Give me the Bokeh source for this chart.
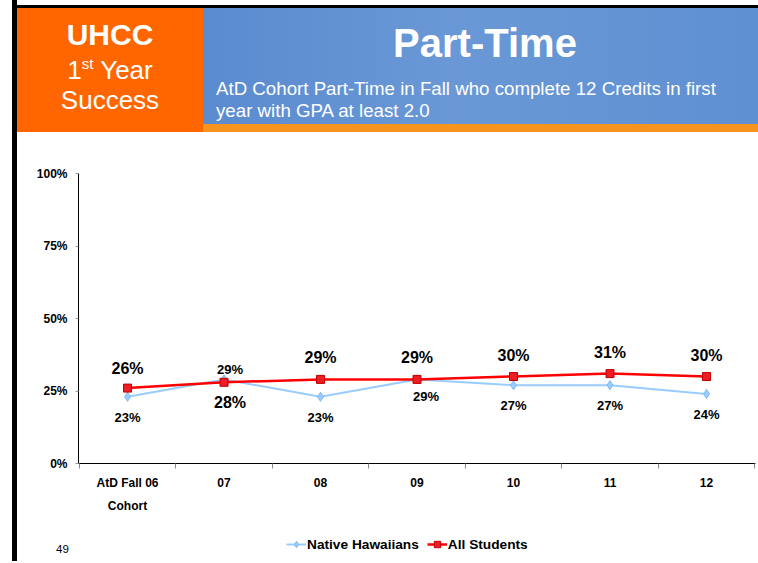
from bokeh.plotting import figure
from bokeh.models import (Range1d, FixedTicker, Legend, LegendItem, Label, Div,
                          ColumnDataSource)
from bokeh.layouts import column
from bokeh.embed import file_html
from bokeh.resources import INLINE
from bokeh.core.properties import value

# ---------------- data ----------------
categories = ["AtD Fall 06\nCohort", "07", "08", "09", "10", "11", "12"]
native_hawaiians = [23, 29, 23, 29, 27, 27, 24]
all_students = [26, 28, 29, 29, 30, 31, 30]
series_names = ["Native Hawaiians", "All Students"]
y_ticks = [0, 25, 50, 75, 100]
y_tick_labels = ["0%", "25%", "50%", "75%", "100%"]
title_text = "Part-Time"
subtitle_lines = ["AtD Cohort Part-Time in Fall who complete 12 Credits in first",
                  "year with GPA at least 2.0"]
page_number = "49"

# label placement (pixel offsets from each point)
nh_dx = [0, 6, 0, 9, 0, 0, 0]
nh_dy = [21, -10, 21, 17, 20, 20, 21]
all_dx = [0, 6, 0, 0, 0, 0, 0]
all_dy = [-20, 20, -22, -22, -21, -21, -21]

FONT = "Liberation Sans"
NH_COLOR = "#99CCFF"
ALL_COLOR = "#FF0000"

W = 758
HEADER_H = 132
FIG_H = 429

# ---------------- header ----------------
header_html = f"""
<div style="position:relative;width:{W}px;height:{HEADER_H}px;overflow:hidden;
            font-family:'Liberation Sans',Arial,sans-serif;color:#fff;">
  <div style="position:absolute;left:12px;top:5px;width:746px;height:3px;background:#000;"></div>
  <div style="position:absolute;left:17px;top:8px;width:186px;height:124px;background:#FF6600;"></div>
  <div style="position:absolute;left:203px;top:8px;width:555px;height:116px;
              background:linear-gradient(90deg,#5a8bcf 0%,#6a98d6 45%,#5f90d2 100%);"></div>
  <div style="position:absolute;left:203px;top:124px;width:555px;height:8px;background:#F7941D;"></div>
  <div style="position:absolute;left:17px;top:21px;width:186px;text-align:center;
              font-weight:bold;font-size:30px;line-height:28px;">UHCC</div>
  <div style="position:absolute;left:17px;top:57px;width:186px;text-align:center;
              font-size:26px;line-height:26px;">1<sup style="font-size:15px;line-height:0;vertical-align:10px;">st</sup> Year</div>
  <div style="position:absolute;left:17px;top:87px;width:186px;text-align:center;
              font-size:26px;line-height:26px;">Success</div>
  <div style="position:absolute;left:203px;top:21px;width:564px;text-align:center;
              font-weight:bold;font-size:40px;line-height:44px;">{title_text}</div>
  <div style="position:absolute;left:216px;top:78px;width:540px;white-space:nowrap;
              font-size:18.7px;line-height:22px;">{subtitle_lines[0]}<br>{subtitle_lines[1]}</div>
</div>
"""
header = Div(text=header_html, width=W, height=HEADER_H, margin=0)

# ---------------- chart ----------------
xs = list(range(len(categories)))
PX_X = 96.5          # pixels per category
X0 = -0.508          # left end of x axis
PX_Y = 2.9           # pixels per percent
AX_LEFT = 78         # pixel position of y axis
AX_TOP = 173 - HEADER_H
AX_BOTTOM = 463 - HEADER_H

x_start = X0 - AX_LEFT / PX_X
x_end = x_start + W / PX_X
y_end = 100 + AX_TOP / PX_Y
y_start = -(FIG_H - AX_BOTTOM) / PX_Y

p = figure(width=W, height=FIG_H, output_backend="svg", toolbar_location=None,
           x_range=Range1d(x_start, x_end), y_range=Range1d(y_start, y_end),
           min_border_left=0, min_border_right=0, min_border_top=0,
           min_border_bottom=0, margin=0)
p.border_fill_color = None
p.background_fill_color = None
p.outline_line_color = None
p.xgrid.visible = False
p.ygrid.visible = False

# y axis
p.yaxis.fixed_location = X0
p.yaxis.bounds = (y_ticks[0], y_ticks[-1])
p.yaxis.ticker = FixedTicker(ticks=y_ticks)
p.yaxis.major_label_overrides = {t: l for t, l in zip(y_ticks, y_tick_labels)}
p.yaxis.axis_line_color = "black"
p.yaxis.major_tick_out = 3
p.yaxis.major_tick_in = 0
p.yaxis.major_tick_line_color = "#999999"
p.yaxis.minor_tick_line_color = None
p.yaxis.major_label_standoff = 8
p.yaxis.major_label_text_font = FONT
p.yaxis.major_label_text_font_style = "bold"
p.yaxis.major_label_text_font_size = "12px"
p.yaxis.major_label_text_color = "black"

# x axis
p.xaxis.fixed_location = 0
p.xaxis.bounds = (X0, len(xs) - 1 - X0)
p.xaxis.ticker = FixedTicker(ticks=xs, minor_ticks=[i - 0.5 for i in range(len(xs) + 1)])
p.xaxis.major_label_overrides = {i: c for i, c in zip(xs, categories)}
p.xaxis.axis_line_color = "black"
p.xaxis.major_tick_out = 0
p.xaxis.major_tick_in = 0
p.xaxis.minor_tick_out = 5
p.xaxis.minor_tick_in = 0
p.xaxis.minor_tick_line_color = "#888888"
p.xaxis.major_label_standoff = 7
p.xaxis.major_label_text_font = FONT
p.xaxis.major_label_text_font_style = "bold"
p.xaxis.major_label_text_font_size = "12px"
p.xaxis.major_label_text_color = "black"
p.xaxis.major_label_text_line_height = 1.68

# series
nh_line = p.line(xs, native_hawaiians, line_color=NH_COLOR, line_width=2)
nh_pts = p.scatter(xs, native_hawaiians, marker="diamond", size=9,
                   fill_color=NH_COLOR, line_color="#80B8F2")
all_line = p.line(xs, all_students, line_color=ALL_COLOR, line_width=2.5)
all_pts = p.scatter(xs, all_students, marker="square", size=8,
                    fill_color="#EE1C25", line_color="#C00000")

# data labels
nh_src = ColumnDataSource(dict(x=xs, y=native_hawaiians,
                               t=[f"{v}%" for v in native_hawaiians],
                               dx=nh_dx, dy=nh_dy))
all_src = ColumnDataSource(dict(x=xs, y=all_students,
                                t=[f"{v}%" for v in all_students],
                                dx=all_dx, dy=all_dy))
p.text(x="x", y="y", text="t", x_offset="dx", y_offset="dy", source=nh_src,
       text_font=value(FONT), text_font_style="bold", text_font_size="13px",
       text_align="center", text_baseline="middle", text_color="black")
p.text(x="x", y="y", text="t", x_offset="dx", y_offset="dy", source=all_src,
       text_font=value(FONT), text_font_style="bold", text_font_size="16px",
       text_align="center", text_baseline="middle", text_color="black")

# legend (bottom-left corner given in screen pixels from the frame's bottom-left)
legend = Legend(items=[LegendItem(label=series_names[0], renderers=[nh_line, nh_pts]),
                       LegendItem(label=series_names[1], renderers=[all_line, all_pts])],
                orientation="horizontal", location=(286, 9),
                label_text_font=FONT, label_text_font_style="bold",
                label_text_font_size="13.7px", label_text_color="black",
                glyph_width=20, glyph_height=16, label_standoff=1, spacing=8,
                padding=0, margin=0, border_line_color=None,
                background_fill_alpha=0)
p.add_layout(legend, "center")

p.add_layout(Label(x=62, y=13, x_units="screen", y_units="screen", text=page_number,
                   text_align="center", text_baseline="middle",
                   text_font=FONT, text_font_size="11.5px", text_color="black"))

layout = column(header, p, spacing=0,
                styles={"background": "linear-gradient(90deg,#fff 0px,#fff 12px,#000 12px,#000 17px,#fff 17px)"})

open("out.html", "w").write(file_html(layout, INLINE))
